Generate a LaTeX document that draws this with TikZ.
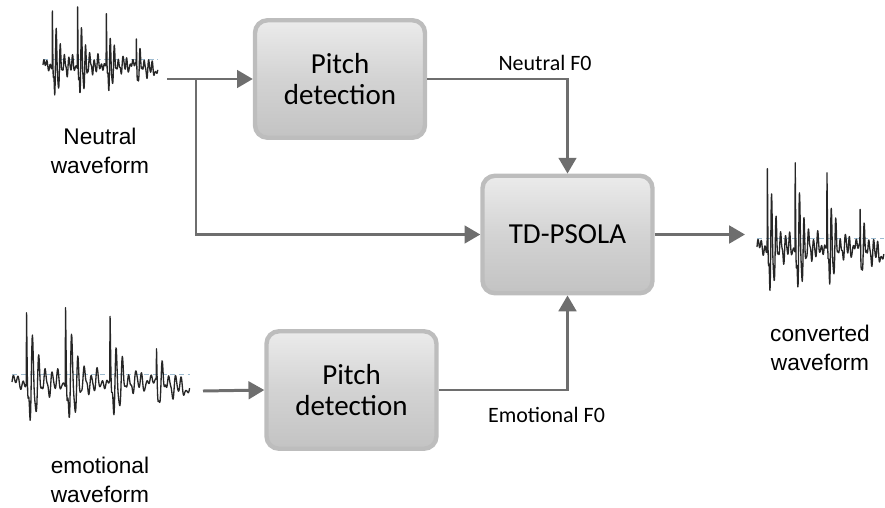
\documentclass[tikz,border=0pt]{standalone}
\usepackage{fontspec}
\setmainfont{Liberation Sans}
\newfontfamily\calib{Carlito}
\usetikzlibrary{arrows.meta,positioning}

\definecolor{linegray}{HTML}{6E6E6E}
\definecolor{boxedge}{HTML}{BDBDBD}
\definecolor{boxlight}{HTML}{EBEBEB}
\definecolor{boxdark}{HTML}{C3C3C3}
\definecolor{zeroline}{HTML}{9DBBD0}

\tikzset{
  procbox/.style={rectangle, rounded corners=0.25cm, draw=boxedge, line width=2.5pt,
    top color=boxlight, bottom color=boxdark, middle color=boxdark!60!boxlight,
    minimum width=3.4cm, minimum height=2.35cm, align=center,
    font=\calib\fontsize{16.5}{17.6}\selectfont},
  flow/.style={draw=linegray, line width=1.7pt, -{Triangle[length=9pt,width=10pt]}},
  wavelabel/.style={align=center, anchor=base, font=\fontsize{12.9}{16.4}\selectfont},
  flabel/.style={anchor=base, font=\calib\fontsize{12.5}{14}\selectfont},
  declare function={
    dd(\tv,\cv)=min(max(\tv-\cv,0),0.5);
    burst(\tv,\cv,\av)=\av*(\tv>\cv)*(exp(-dd(\tv,\cv)/0.075)*(cos(10000*dd(\tv,\cv))+0.3*cos(2*(10000*dd(\tv,\cv))+50))+0.5*exp(-dd(\tv,\cv)/0.012)*cos(2*(10000*dd(\tv,\cv))));
    wav(\tv)=burst(\tv,0.08,0.42)+burst(\tv,0.30,0.40)+burst(\tv,0.55,0.32)+burst(\tv,0.81,0.2)+0.035*sin(13000*\tv)+0.03*sin(4700*\tv)-0.06*(\tv>0.83)*(\tv-0.83)*6;
  },
  pics/waveform/.style={code={
    \draw[zeroline, densely dashed, line width=0.3pt] (0,0.06) -- (1,0.06);
    \draw[black!85, line width=0.75pt, line join=round] plot[domain=0:1, samples=450] (\x,{wav(\x)});
  }},
}

\begin{document}
\begin{tikzpicture}[x=0.02cm, y=-0.02cm]
\useasboundingbox (0,0) rectangle (885,507);

% waveforms
\pic[xscale=115, yscale=-100] at (43,65) {waveform};
\pic[xscale=178, yscale=-128] at (12,382) {waveform};
\pic[xscale=127, yscale=-145] at (757,247) {waveform};

\node[wavelabel] (neulab) at (100,173) {Neutral\\waveform};
\node[wavelabel] (emolab) at (100,502) {emotional\\waveform};
\node[wavelabel] (convlab) at (820,370) {converted\\waveform};

% blocks
\node[procbox] (pitchA) at (340,79) {Pitch\\detection};
\node[procbox] (pitchB) at (351.5,390) {Pitch\\detection};
\node[procbox] (psola) at (567.5,234.5) {TD-PSOLA};

\coordinate (neuout) at (167,79);
\coordinate (split) at (196,79);
\coordinate (emoout) at (203,391);
\coordinate (convin) at (745,234.5);

% connectors
\draw[flow] (neuout) -- (pitchA.west);
\draw[flow] (split) |- (psola.west);
\draw[flow] (emoout) -- (pitchB.west);
\draw[flow] (pitchA.east) -| (psola.north);
\draw[flow] (pitchB.east) -| (psola.south);
\draw[flow] (psola.east) -- (convin);

\node[flabel] (neuf0) at (545,70) {Neutral F0};
\node[flabel] (emof0) at (546.5,422) {Emotional F0};
\end{tikzpicture}
\end{document}
